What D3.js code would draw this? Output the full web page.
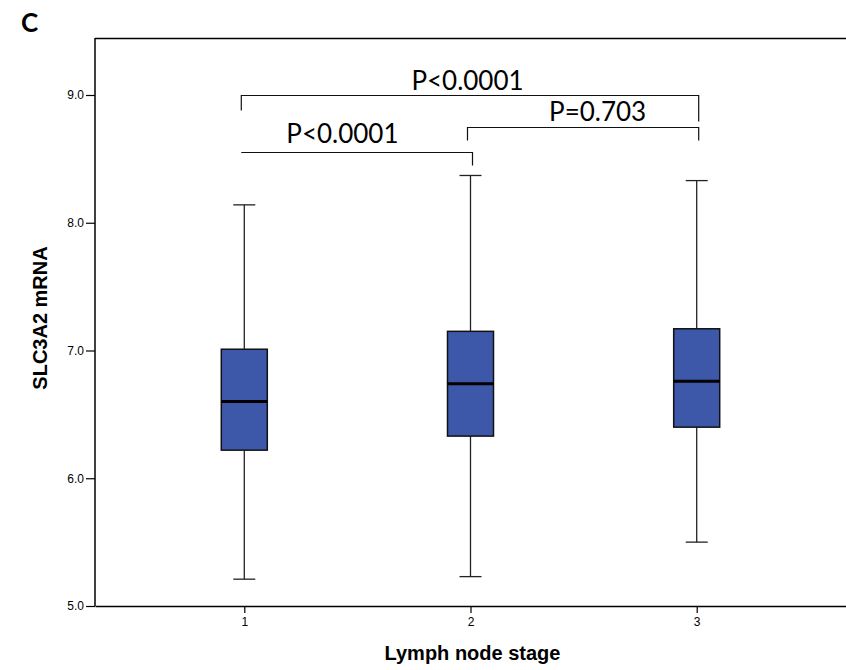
<!DOCTYPE html>
<html>
<head>
<meta charset="utf-8">
<script src="https://cdn.jsdelivr.net/npm/d3@7"></script>
<style>
  html, body { margin: 0; padding: 0; background: #fff; }
  svg { display: block; }
</style>
</head>
<body>
<svg id="chart" width="846" height="670"></svg>
<script>
// Lymph node stage groups and their box-plot summaries (SLC3A2 mRNA)
const categories = ["1", "2", "3"];
const whiskerLow  = [5.21, 5.23, 5.50];
const q1          = [6.22, 6.33, 6.40];
const median      = [6.60, 6.74, 6.76];
const q3          = [7.01, 7.15, 7.17];
const whiskerHigh = [8.14, 8.37, 8.33];

const yTickValues = [5.0, 6.0, 7.0, 8.0, 9.0];

// Pairwise comparisons shown as brackets above the boxes
const compFrom   = ["1", "2", "1"];
const compTo     = ["3", "3", "2"];
const compLabels = ["P<0.0001", "P=0.703", "P<0.0001"];

const svg = d3.select("#chart");
const margin = { top: 38, right: 0, bottom: 64, left: 95 };
const W = 846, H = 670;
const innerW = W - margin.left - margin.right;
const innerH = H - margin.top - margin.bottom;

const g = svg.append("g").attr("transform", `translate(${margin.left},${margin.top})`);

const x = d3.scalePoint().domain(categories).range([0, innerW]).padding(0.66);
const y = d3.scaleLinear().domain([5, 5 + innerH / 127.75]).range([innerH, 0]);

// Frame: top border line
g.append("line")
  .attr("x1", 0).attr("x2", innerW)
  .attr("y1", 0.5).attr("y2", 0.5)
  .attr("stroke", "#000").attr("stroke-width", 1.3);

// Y axis
const yAxis = g.append("g")
  .call(d3.axisLeft(y).tickValues(yTickValues).tickFormat(d3.format(".1f")).tickSize(9).tickSizeOuter(0));
yAxis.select(".domain").attr("stroke", "#000").attr("stroke-width", 1.5)
  .attr("d", `M0,${innerH}V0`);
yAxis.selectAll(".tick line").attr("stroke", "#000").attr("stroke-width", 1.2);
yAxis.selectAll(".tick text")
  .attr("x", -11)
  .attr("font-family", "'Liberation Sans', Arial, sans-serif")
  .attr("font-size", 12).attr("fill", "#000");

// X axis
const xAxis = g.append("g")
  .attr("transform", `translate(0,${innerH})`)
  .call(d3.axisBottom(x).tickSize(7).tickSizeOuter(0));
xAxis.select(".domain").attr("stroke", "#000").attr("stroke-width", 1.5);
xAxis.selectAll(".tick line").attr("stroke", "#000").attr("stroke-width", 1.2);
xAxis.selectAll(".tick text")
  .attr("y", 11)
  .attr("font-family", "'Liberation Sans', Arial, sans-serif")
  .attr("font-size", 12).attr("fill", "#000");

// Axis titles
svg.append("text")
  .attr("x", margin.left + x("2") + 2).attr("y", 660)
  .attr("text-anchor", "middle")
  .attr("font-family", "'Liberation Sans', Arial, sans-serif")
  .attr("font-weight", "bold").attr("font-size", 20)
  .text("Lymph node stage");

svg.append("text")
  .attr("transform", `translate(47,318) rotate(-90)`)
  .attr("text-anchor", "middle")
  .attr("font-family", "'Liberation Sans', Arial, sans-serif")
  .attr("font-weight", "bold").attr("font-size", 20)
  .text("SLC3A2 mRNA");

// Panel letter
svg.append("text")
  .attr("x", 21).attr("y", 32)
  .attr("font-family", "Lato, 'Open Sans', sans-serif")
  .attr("font-weight", "bold").attr("font-size", 26)
  .text("C");

// Box plots
const boxW = 46, capW = 22;
const stats = categories.map((c, i) => ({
  c, lo: whiskerLow[i], q1: q1[i], med: median[i], q3: q3[i], hi: whiskerHigh[i]
}));

const boxes = g.selectAll(".box").data(stats).join("g").attr("class", "box")
  .attr("transform", d => `translate(${x(d.c)},0)`);

// whisker stems
boxes.append("line")
  .attr("x1", 0).attr("x2", 0)
  .attr("y1", d => y(d.hi)).attr("y2", d => y(d.q3))
  .attr("stroke", "#222").attr("stroke-width", 1.3);
boxes.append("line")
  .attr("x1", 0).attr("x2", 0)
  .attr("y1", d => y(d.q1)).attr("y2", d => y(d.lo))
  .attr("stroke", "#222").attr("stroke-width", 1.3);
// caps
boxes.append("line")
  .attr("x1", -capW / 2).attr("x2", capW / 2)
  .attr("y1", d => y(d.hi)).attr("y2", d => y(d.hi))
  .attr("stroke", "#222").attr("stroke-width", 1.3);
boxes.append("line")
  .attr("x1", -capW / 2).attr("x2", capW / 2)
  .attr("y1", d => y(d.lo)).attr("y2", d => y(d.lo))
  .attr("stroke", "#222").attr("stroke-width", 1.3);
// box
boxes.append("rect")
  .attr("x", -boxW / 2).attr("width", boxW)
  .attr("y", d => y(d.q3)).attr("height", d => y(d.q1) - y(d.q3))
  .attr("fill", "#3D58A8").attr("stroke", "#111").attr("stroke-width", 1.5);
// median
boxes.append("line")
  .attr("x1", -boxW / 2).attr("x2", boxW / 2)
  .attr("y1", d => y(d.med)).attr("y2", d => y(d.med))
  .attr("stroke", "#000").attr("stroke-width", 3);

// Significance brackets (level in data units, drop lengths in px)
const bracketLevel = [9.0, 8.75, 8.555];
const dropLeft  = [15, 13, 0];
const dropRight = [26, 13, 13];
const labelLift = [5.5, 7, 10];
const labelX    = [x("2") - 3, (x("2") + x("3")) / 2 + 14, (x("1") + x("2")) / 2 - 15];

compLabels.forEach((lab, i) => {
  const x1 = x(compFrom[i]) - 3, x2 = x(compTo[i]) + 2;
  const yy = Math.round(y(bracketLevel[i])) + 0.5;
  const path = d3.path();
  path.moveTo(x1, yy + dropLeft[i]);
  path.lineTo(x1, yy);
  path.lineTo(x2, yy);
  path.lineTo(x2, yy + dropRight[i]);
  g.append("path").attr("d", path.toString())
    .attr("fill", "none").attr("stroke", "#111").attr("stroke-width", 1.2);
  g.append("text")
    .attr("x", labelX[i]).attr("y", yy - labelLift[i])
    .attr("text-anchor", "middle")
    .attr("font-family", "Lato, 'Open Sans', sans-serif")
    .attr("font-size", 26).attr("fill", "#000")
    .text(lab);
});
</script>
</body>
</html>
